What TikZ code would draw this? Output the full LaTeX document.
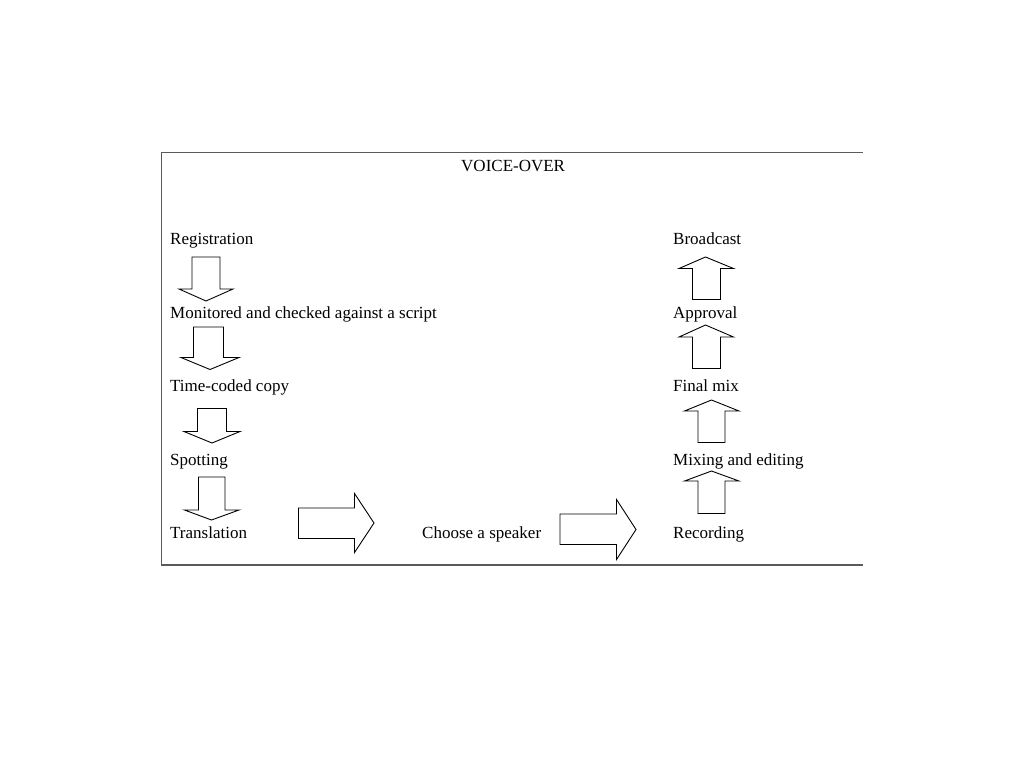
\documentclass[tikz,border=0pt]{standalone}
\usepackage{fontspec}
\setmainfont{Liberation Serif}
\usetikzlibrary{math}
\definecolor{framegray}{RGB}{90,90,90}

\tikzset{
  steplabel/.style={anchor=base west, inner sep=0pt, font=\fontsize{17}{20}\selectfont},
  blockarrow/.style={draw=black, line width=0.9pt, fill=white, line join=miter}
}

\begin{document}
\begin{tikzpicture}[x=1pt,y=-1pt]
\useasboundingbox (0,0) rectangle (1024,768);
\tikzmath{
\xl = 170;
\xr = 673;
\ya = 244.5;
\dy = 73.5;
}

% frame
\draw[color=framegray, line width=1.4pt] (862.5,152.5) -- (161.5,152.5) -- (161.5,565) -- (862.5,565);

\node[steplabel] (title) at (461,171) {VOICE-OVER};

% left column
\node[steplabel] (reg) at (\xl,\ya) {Registration};
\node[steplabel] (mon) at (\xl,\ya+\dy) {Monitored and checked against a script};
\node[steplabel] (tcc) at (\xl,\ya+2*\dy) {Time-coded copy};
\node[steplabel] (spot) at (\xl,\ya+3*\dy) {Spotting};
\node[steplabel] (trans) at (\xl,\ya+4*\dy) {Translation};

% middle
\node[steplabel] (speaker) at (422,\ya+4*\dy) {Choose a speaker};

% right column
\node[steplabel] (bcast) at (\xr,\ya) {Broadcast};
\node[steplabel] (appr) at (\xr,\ya+\dy) {Approval};
\node[steplabel] (fmix) at (\xr,\ya+2*\dy) {Final mix};
\node[steplabel] (mixed) at (\xr,\ya+3*\dy) {Mixing and editing};
\node[steplabel] (rec) at (\xr,\ya+4*\dy) {Recording};

% down arrows
\draw[blockarrow] (192,257) -- (192,289) -- (179,289) -- (206,301) -- (233,289) -- (220,289) -- (220,257) -- cycle;
\draw[blockarrow] (193.5,327) -- (193.5,357.5) -- (181,357.5) -- (210,369.5) -- (239,357.5) -- (223.5,357.5) -- (223.5,327) -- cycle;
\draw[blockarrow] (197.5,408.5) -- (197.5,431.5) -- (184,431.5) -- (212,443) -- (240,431.5) -- (226.5,431.5) -- (226.5,408.5) -- cycle;
\draw[blockarrow] (198.5,477) -- (198.5,510) -- (184.5,510) -- (211.5,520) -- (239,510) -- (225,510) -- (225,477) -- cycle;

% right arrows
\draw[blockarrow] (298.5,508) -- (354.5,508) -- (354.5,493.5) -- (374,523) -- (354.5,552.5) -- (354.5,538.5) -- (298.5,538.5) -- cycle;
\draw[blockarrow] (560,514) -- (616.5,514) -- (616.5,499.5) -- (636,529.5) -- (616.5,559.5) -- (616.5,544.5) -- (560,544.5) -- cycle;

% up arrows
\draw[blockarrow] (698,513.5) -- (698,481) -- (684.5,481) -- (711.5,471) -- (739,481) -- (725,481) -- (725,513.5) -- cycle;
\draw[blockarrow] (698,442.5) -- (698,411) -- (684.5,411) -- (711.5,400) -- (739,411) -- (725,411) -- (725,442.5) -- cycle;
\draw[blockarrow] (692.5,368.5) -- (692.5,337) -- (679,337) -- (705.5,325) -- (733.5,337) -- (720.5,337) -- (720.5,368.5) -- cycle;
\draw[blockarrow] (692.5,299.5) -- (692.5,268.5) -- (679,268.5) -- (705.5,257) -- (733.5,268.5) -- (720.5,268.5) -- (720.5,299.5) -- cycle;

\end{tikzpicture}
\end{document}
